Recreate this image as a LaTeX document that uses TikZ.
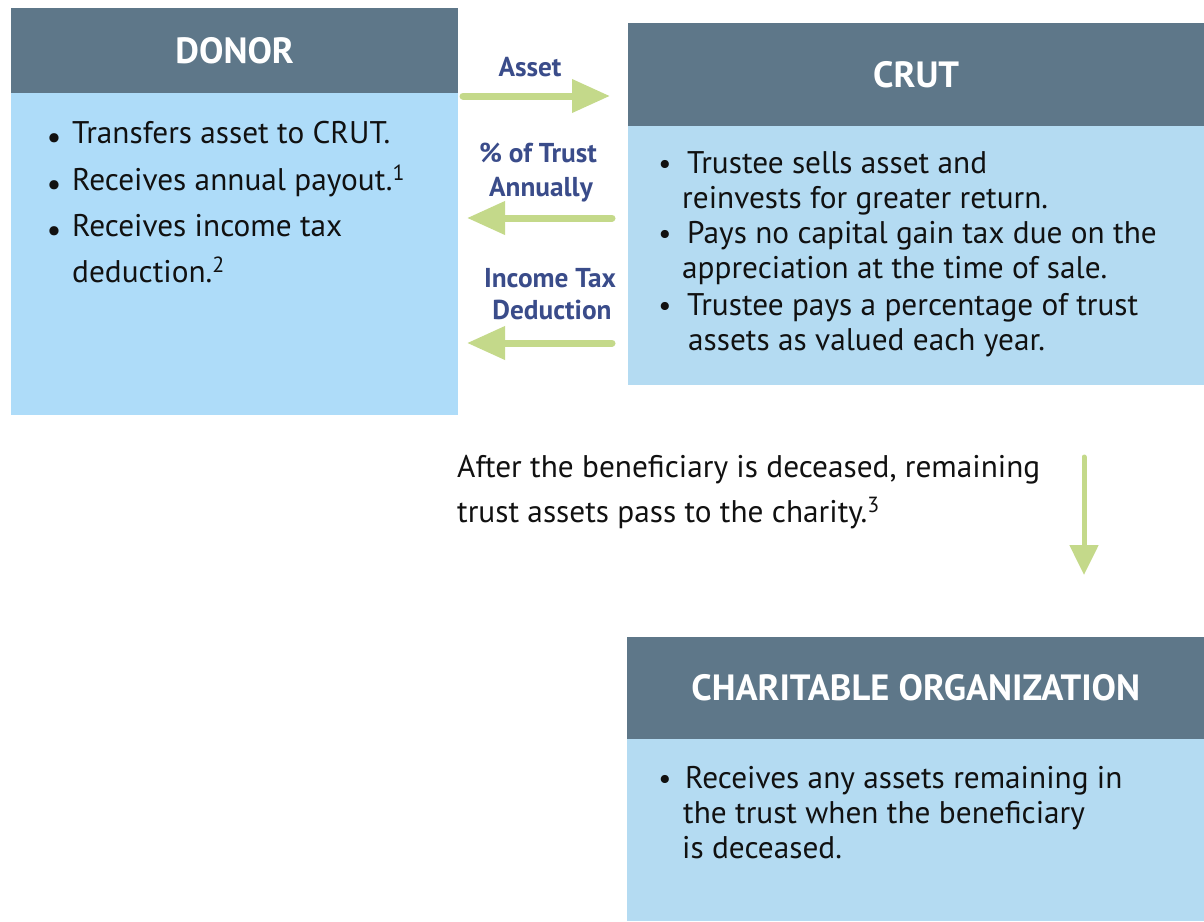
\documentclass[tikz,border=0pt]{standalone}
\usepackage{fontspec}
\setmainfont{PT Sans}
\usetikzlibrary{arrows.meta}
\definecolor{hdrcol}{RGB}{94,119,137}
\definecolor{donorbody}{RGB}{174,220,249}
\definecolor{crutbody}{RGB}{180,219,242}
\definecolor{arrowgreen}{RGB}{196,217,138}
\definecolor{labelnavy}{RGB}{58,76,138}
\definecolor{bodytext}{RGB}{17,17,17}
\begin{document}
\begin{tikzpicture}[x=1pt,y=-1pt,
  hdrbox/.style={fill=hdrcol, draw=none, inner sep=0pt, anchor=north west, text=white,
    font=\fontsize{36.5}{40}\selectfont\bfseries},
  bodybox/.style={draw=none, inner sep=0pt, anchor=north west},
  bodyline/.style={anchor=base west, inner sep=0pt, text=bodytext, font=\fontsize{31.3}{36}\selectfont},
  bul/.style={anchor=base, inner sep=0pt, text=bodytext, font=\fontsize{29}{35}\selectfont},
  flowlabel/.style={anchor=base, inner sep=0pt, text=labelnavy, font=\fontsize{27.3}{30}\selectfont\bfseries},
  flowarrow/.style={draw=arrowgreen, line width=7pt, line cap=round,
    -{Triangle[length=38pt, width=32pt]}},
]
\useasboundingbox (0,0) rectangle (1204,921);

% DONOR
\node[hdrbox, minimum width=447pt, minimum height=85pt] (donorH) at (11,8) {DONOR};
\node[bodybox, fill=donorbody, minimum width=447pt, minimum height=322pt] (donorB) at (11,93) {};
\node[bul, font=\fontsize{33}{35}\selectfont] (db1) at (54,148) {•};
\node[bodyline] (d1) at (72,143) {Transfers asset to CRUT.};
\node[bul, font=\fontsize{33}{35}\selectfont] (db2) at (54,195) {•};
\node[bodyline] (d2) at (72,190) {Receives annual payout.\textsuperscript{1}};
\node[bul, font=\fontsize{33}{35}\selectfont] (db3) at (54,241) {•};
\node[bodyline] (d3) at (72,236) {Receives income tax};
\node[bodyline] (d4) at (72,282) {deduction.\textsuperscript{2}};

% CRUT
\node[hdrbox, minimum width=576pt, minimum height=103pt] (crutH) at (628,23) {CRUT};
\node[bodybox, fill=crutbody, minimum width=576pt, minimum height=259pt] (crutB) at (628,126) {};
\node[bul] (cb1) at (665,173) {•};
\node[bodyline] (c1) at (687,173) {Trustee sells asset and};
\node[bodyline] (c2) at (682,208) {reinvests for greater return.};
\node[bul] (cb2) at (665,243) {•};
\node[bodyline] (c3) at (687,243) {Pays no capital gain tax due on the};
\node[bodyline] (c4) at (682,278) {appreciation at the time of sale.};
\node[bul] (cb3) at (665,315) {•};
\node[bodyline] (c5) at (687,315) {Trustee pays a percentage of trust};
\node[bodyline] (c6) at (688,350) {assets as valued each year.};

% CHARITABLE ORGANIZATION
\node[hdrbox, minimum width=577pt, minimum height=102pt] (charH) at (627,637) {CHARITABLE ORGANIZATION};
\node[bodybox, fill=crutbody, minimum width=577pt, minimum height=182pt] (charB) at (627,739) {};
\node[bul] (hb1) at (665,788) {•};
\node[bodyline] (h1) at (685,788) {Receives any assets remaining in};
\node[bodyline] (h2) at (683,823) {the trust when the beneficiary};
\node[bodyline] (h3) at (682,858) {is deceased.};

% Flow labels
\node[flowlabel] (lAsset) at (530,76) {Asset};
\node[flowlabel] (lPct1) at (538,162) {\% of Trust};
\node[flowlabel] (lPct2) at (541,196) {Annually};
\node[flowlabel] (lInc1) at (550,287) {Income Tax};
\node[flowlabel] (lInc2) at (552,319) {Deduction};

% Arrow end points
\coordinate (aS) at (463,96);
\coordinate (aE) at (610,96);
\coordinate (pS) at (612,218);
\coordinate (pE) at (467,218);
\coordinate (iS) at (612,343);
\coordinate (iE) at (467,343);
\coordinate (dS) at (1084,457);
\coordinate (dE) at (1084,575);

\draw[flowarrow] (aS) -- (aE);
\draw[flowarrow] (pS) -- (pE);
\draw[flowarrow] (iS) -- (iE);
\draw[flowarrow, line width=5pt, -{Triangle[length=30pt, width=28pt]}] (dS) -- (dE);

% Transition text
\node[bodyline] (t1) at (457,477) {After the beneficiary is deceased, remaining};
\node[bodyline] (t2) at (457,522) {trust assets pass to the charity.\textsuperscript{3}};
\end{tikzpicture}
\end{document}
